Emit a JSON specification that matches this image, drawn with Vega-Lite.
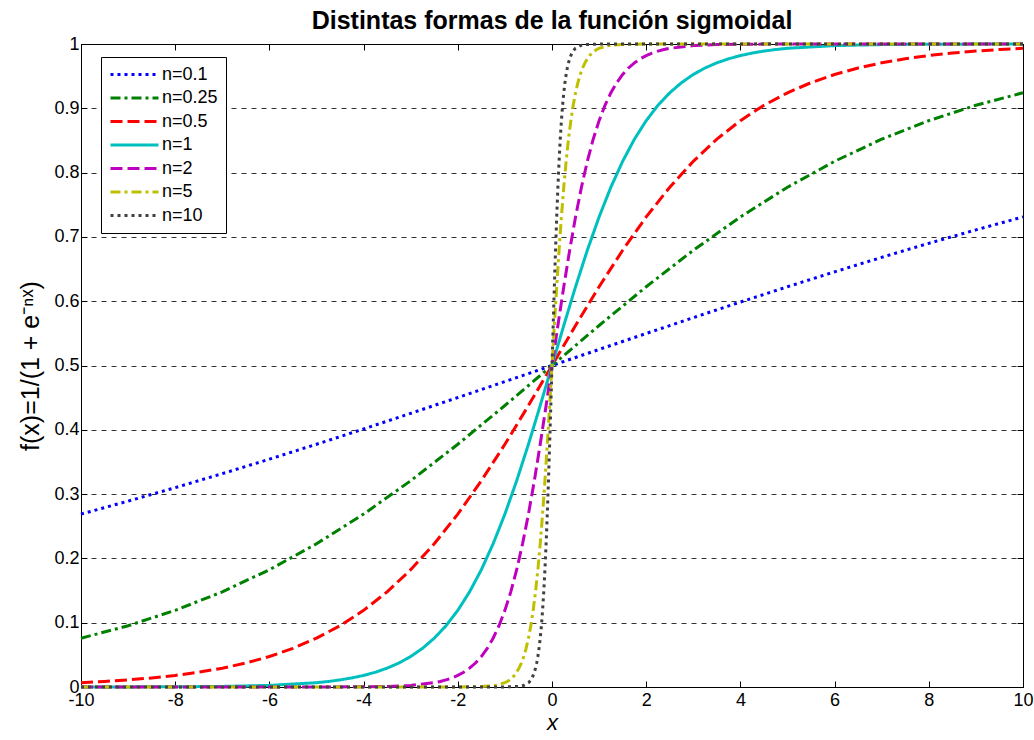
{
"$schema": "https://vega.github.io/schema/vega-lite/v6.json",
"width": 942, "height": 643,
"autosize": {"type": "none"},
"padding": {"left": 81, "top": 44, "right": 11, "bottom": 53},
"background": "white",
"title": {"text": "Distintas formas de la función sigmoidal", "fontSize": 25, "fontWeight": "bold", "font": "Liberation Sans", "color": "black", "anchor": "middle", "offset": 6, "baseline": "bottom", "dy": 30},
"config": {
  "view": {"stroke": "black", "strokeWidth": 1},
  "axis": {"domainColor": "black", "tickColor": "black", "labelColor": "black", "labelFont": "Liberation Sans", "labelFontSize": 18, "labelFlush": false, "titleFont": "Liberation Sans", "titleColor": "black", "titleFontWeight": "normal", "tickSize": -6, "labelPadding": 8, "gridColor": "#333333", "gridDash": [5, 5], "gridWidth": 1, "grid": false},
  "legend": {"orient": "none", "legendX": 20, "legendY": 13, "strokeColor": "black", "fillColor": "white", "padding": 8, "symbolType": "M-3,0H3", "symbolSize": 256, "symbolOffset": 16, "symbolStrokeWidth": 3, "labelFont": "Liberation Sans", "labelFontSize": 18, "labelColor": "black", "rowPadding": 4.5, "labelOffset": 18}
},
"data": {"values": [
{"n":"n=0.1","x":-10,"y":0.2689},{"n":"n=0.1","x":-9,"y":0.2891},{"n":"n=0.1","x":-8,"y":0.3100},{"n":"n=0.1","x":-7,"y":0.3318},{"n":"n=0.1","x":-6,"y":0.3543},{"n":"n=0.1","x":-5,"y":0.3775},{"n":"n=0.1","x":-4,"y":0.4013},{"n":"n=0.1","x":-3,"y":0.4256},{"n":"n=0.1","x":-2,"y":0.4502},{"n":"n=0.1","x":-1,"y":0.4750},{"n":"n=0.1","x":0,"y":0.5},{"n":"n=0.1","x":1,"y":0.5250},{"n":"n=0.1","x":2,"y":0.5498},{"n":"n=0.1","x":3,"y":0.5744},{"n":"n=0.1","x":4,"y":0.5987},{"n":"n=0.1","x":5,"y":0.6225},{"n":"n=0.1","x":6,"y":0.6457},{"n":"n=0.1","x":7,"y":0.6682},{"n":"n=0.1","x":8,"y":0.6900},{"n":"n=0.1","x":9,"y":0.7109},{"n":"n=0.1","x":10,"y":0.7311},
{"n":"n=0.25","x":-10,"y":0.0759},{"n":"n=0.25","x":-9,"y":0.0953},{"n":"n=0.25","x":-8,"y":0.1192},{"n":"n=0.25","x":-7,"y":0.1480},{"n":"n=0.25","x":-6,"y":0.1824},{"n":"n=0.25","x":-5,"y":0.2227},{"n":"n=0.25","x":-4,"y":0.2689},{"n":"n=0.25","x":-3,"y":0.3208},{"n":"n=0.25","x":-2,"y":0.3775},{"n":"n=0.25","x":-1,"y":0.4378},{"n":"n=0.25","x":0,"y":0.5},{"n":"n=0.25","x":1,"y":0.5622},{"n":"n=0.25","x":2,"y":0.6225},{"n":"n=0.25","x":3,"y":0.6792},{"n":"n=0.25","x":4,"y":0.7311},{"n":"n=0.25","x":5,"y":0.7773},{"n":"n=0.25","x":6,"y":0.8176},{"n":"n=0.25","x":7,"y":0.8520},{"n":"n=0.25","x":8,"y":0.8808},{"n":"n=0.25","x":9,"y":0.9047},{"n":"n=0.25","x":10,"y":0.9241},
{"n":"n=0.5","x":-10,"y":0.0067},{"n":"n=0.5","x":-9.5,"y":0.0086},{"n":"n=0.5","x":-9,"y":0.0110},{"n":"n=0.5","x":-8.5,"y":0.0141},{"n":"n=0.5","x":-8,"y":0.0180},{"n":"n=0.5","x":-7.5,"y":0.0230},{"n":"n=0.5","x":-7,"y":0.0293},{"n":"n=0.5","x":-6.5,"y":0.0373},{"n":"n=0.5","x":-6,"y":0.0474},{"n":"n=0.5","x":-5.5,"y":0.0601},{"n":"n=0.5","x":-5,"y":0.0759},{"n":"n=0.5","x":-4.5,"y":0.0953},{"n":"n=0.5","x":-4,"y":0.1192},{"n":"n=0.5","x":-3.5,"y":0.1480},{"n":"n=0.5","x":-3,"y":0.1824},{"n":"n=0.5","x":-2.5,"y":0.2227},{"n":"n=0.5","x":-2,"y":0.2689},{"n":"n=0.5","x":-1.5,"y":0.3208},{"n":"n=0.5","x":-1,"y":0.3775},{"n":"n=0.5","x":-0.5,"y":0.4378},{"n":"n=0.5","x":0,"y":0.5},{"n":"n=0.5","x":0.5,"y":0.5622},{"n":"n=0.5","x":1,"y":0.6225},{"n":"n=0.5","x":1.5,"y":0.6792},{"n":"n=0.5","x":2,"y":0.7311},{"n":"n=0.5","x":2.5,"y":0.7773},{"n":"n=0.5","x":3,"y":0.8176},{"n":"n=0.5","x":3.5,"y":0.8520},{"n":"n=0.5","x":4,"y":0.8808},{"n":"n=0.5","x":4.5,"y":0.9047},{"n":"n=0.5","x":5,"y":0.9241},{"n":"n=0.5","x":5.5,"y":0.9399},{"n":"n=0.5","x":6,"y":0.9526},{"n":"n=0.5","x":6.5,"y":0.9627},{"n":"n=0.5","x":7,"y":0.9707},{"n":"n=0.5","x":7.5,"y":0.9770},{"n":"n=0.5","x":8,"y":0.9820},{"n":"n=0.5","x":8.5,"y":0.9859},{"n":"n=0.5","x":9,"y":0.9890},{"n":"n=0.5","x":9.5,"y":0.9914},{"n":"n=0.5","x":10,"y":0.9933},
{"n":"n=1","x":-10,"y":0.00005},{"n":"n=1","x":-8,"y":0.0003},{"n":"n=1","x":-7,"y":0.0009},{"n":"n=1","x":-6,"y":0.0025},{"n":"n=1","x":-5,"y":0.0067},{"n":"n=1","x":-4.75,"y":0.0086},{"n":"n=1","x":-4.5,"y":0.0110},{"n":"n=1","x":-4.25,"y":0.0141},{"n":"n=1","x":-4,"y":0.0180},{"n":"n=1","x":-3.75,"y":0.0230},{"n":"n=1","x":-3.5,"y":0.0293},{"n":"n=1","x":-3.25,"y":0.0373},{"n":"n=1","x":-3,"y":0.0474},{"n":"n=1","x":-2.75,"y":0.0601},{"n":"n=1","x":-2.5,"y":0.0759},{"n":"n=1","x":-2.25,"y":0.0953},{"n":"n=1","x":-2,"y":0.1192},{"n":"n=1","x":-1.75,"y":0.1480},{"n":"n=1","x":-1.5,"y":0.1824},{"n":"n=1","x":-1.25,"y":0.2227},{"n":"n=1","x":-1,"y":0.2689},{"n":"n=1","x":-0.75,"y":0.3208},{"n":"n=1","x":-0.5,"y":0.3775},{"n":"n=1","x":-0.25,"y":0.4378},{"n":"n=1","x":0,"y":0.5},{"n":"n=1","x":0.25,"y":0.5622},{"n":"n=1","x":0.5,"y":0.6225},{"n":"n=1","x":0.75,"y":0.6792},{"n":"n=1","x":1,"y":0.7311},{"n":"n=1","x":1.25,"y":0.7773},{"n":"n=1","x":1.5,"y":0.8176},{"n":"n=1","x":1.75,"y":0.8520},{"n":"n=1","x":2,"y":0.8808},{"n":"n=1","x":2.25,"y":0.9047},{"n":"n=1","x":2.5,"y":0.9241},{"n":"n=1","x":2.75,"y":0.9399},{"n":"n=1","x":3,"y":0.9526},{"n":"n=1","x":3.25,"y":0.9627},{"n":"n=1","x":3.5,"y":0.9707},{"n":"n=1","x":3.75,"y":0.9770},{"n":"n=1","x":4,"y":0.9820},{"n":"n=1","x":4.25,"y":0.9859},{"n":"n=1","x":4.5,"y":0.9890},{"n":"n=1","x":4.75,"y":0.9914},{"n":"n=1","x":5,"y":0.9933},{"n":"n=1","x":6,"y":0.9975},{"n":"n=1","x":7,"y":0.9991},{"n":"n=1","x":8,"y":0.9997},{"n":"n=1","x":10,"y":0.99995},
{"n":"n=2","x":-10,"y":0},{"n":"n=2","x":-5,"y":0.00005},{"n":"n=2","x":-4,"y":0.0003},{"n":"n=2","x":-3.5,"y":0.0009},{"n":"n=2","x":-3,"y":0.0025},{"n":"n=2","x":-2.5,"y":0.0067},{"n":"n=2","x":-2.375,"y":0.0086},{"n":"n=2","x":-2.25,"y":0.0110},{"n":"n=2","x":-2.125,"y":0.0141},{"n":"n=2","x":-2,"y":0.0180},{"n":"n=2","x":-1.875,"y":0.0230},{"n":"n=2","x":-1.75,"y":0.0293},{"n":"n=2","x":-1.625,"y":0.0373},{"n":"n=2","x":-1.5,"y":0.0474},{"n":"n=2","x":-1.375,"y":0.0601},{"n":"n=2","x":-1.25,"y":0.0759},{"n":"n=2","x":-1.125,"y":0.0953},{"n":"n=2","x":-1,"y":0.1192},{"n":"n=2","x":-0.875,"y":0.1480},{"n":"n=2","x":-0.75,"y":0.1824},{"n":"n=2","x":-0.625,"y":0.2227},{"n":"n=2","x":-0.5,"y":0.2689},{"n":"n=2","x":-0.375,"y":0.3208},{"n":"n=2","x":-0.25,"y":0.3775},{"n":"n=2","x":-0.125,"y":0.4378},{"n":"n=2","x":0,"y":0.5},{"n":"n=2","x":0.125,"y":0.5622},{"n":"n=2","x":0.25,"y":0.6225},{"n":"n=2","x":0.375,"y":0.6792},{"n":"n=2","x":0.5,"y":0.7311},{"n":"n=2","x":0.625,"y":0.7773},{"n":"n=2","x":0.75,"y":0.8176},{"n":"n=2","x":0.875,"y":0.8520},{"n":"n=2","x":1,"y":0.8808},{"n":"n=2","x":1.125,"y":0.9047},{"n":"n=2","x":1.25,"y":0.9241},{"n":"n=2","x":1.375,"y":0.9399},{"n":"n=2","x":1.5,"y":0.9526},{"n":"n=2","x":1.625,"y":0.9627},{"n":"n=2","x":1.75,"y":0.9707},{"n":"n=2","x":1.875,"y":0.9770},{"n":"n=2","x":2,"y":0.9820},{"n":"n=2","x":2.125,"y":0.9859},{"n":"n=2","x":2.25,"y":0.9890},{"n":"n=2","x":2.375,"y":0.9914},{"n":"n=2","x":2.5,"y":0.9933},{"n":"n=2","x":3,"y":0.9975},{"n":"n=2","x":3.5,"y":0.9991},{"n":"n=2","x":4,"y":0.9997},{"n":"n=2","x":5,"y":0.99995},{"n":"n=2","x":10,"y":1},
{"n":"n=5","x":-10,"y":0},{"n":"n=5","x":-2,"y":0.00005},{"n":"n=5","x":-1.5,"y":0.0006},{"n":"n=5","x":-1.2,"y":0.0025},{"n":"n=5","x":-1,"y":0.0067},{"n":"n=5","x":-0.95,"y":0.0086},{"n":"n=5","x":-0.9,"y":0.0110},{"n":"n=5","x":-0.85,"y":0.0141},{"n":"n=5","x":-0.8,"y":0.0180},{"n":"n=5","x":-0.75,"y":0.0230},{"n":"n=5","x":-0.7,"y":0.0293},{"n":"n=5","x":-0.65,"y":0.0373},{"n":"n=5","x":-0.6,"y":0.0474},{"n":"n=5","x":-0.55,"y":0.0601},{"n":"n=5","x":-0.5,"y":0.0759},{"n":"n=5","x":-0.45,"y":0.0953},{"n":"n=5","x":-0.4,"y":0.1192},{"n":"n=5","x":-0.35,"y":0.1480},{"n":"n=5","x":-0.3,"y":0.1824},{"n":"n=5","x":-0.25,"y":0.2227},{"n":"n=5","x":-0.2,"y":0.2689},{"n":"n=5","x":-0.15,"y":0.3208},{"n":"n=5","x":-0.1,"y":0.3775},{"n":"n=5","x":-0.05,"y":0.4378},{"n":"n=5","x":0,"y":0.5},{"n":"n=5","x":0.05,"y":0.5622},{"n":"n=5","x":0.1,"y":0.6225},{"n":"n=5","x":0.15,"y":0.6792},{"n":"n=5","x":0.2,"y":0.7311},{"n":"n=5","x":0.25,"y":0.7773},{"n":"n=5","x":0.3,"y":0.8176},{"n":"n=5","x":0.35,"y":0.8520},{"n":"n=5","x":0.4,"y":0.8808},{"n":"n=5","x":0.45,"y":0.9047},{"n":"n=5","x":0.5,"y":0.9241},{"n":"n=5","x":0.55,"y":0.9399},{"n":"n=5","x":0.6,"y":0.9526},{"n":"n=5","x":0.65,"y":0.9627},{"n":"n=5","x":0.7,"y":0.9707},{"n":"n=5","x":0.75,"y":0.9770},{"n":"n=5","x":0.8,"y":0.9820},{"n":"n=5","x":0.85,"y":0.9859},{"n":"n=5","x":0.9,"y":0.9890},{"n":"n=5","x":0.95,"y":0.9914},{"n":"n=5","x":1,"y":0.9933},{"n":"n=5","x":1.2,"y":0.9975},{"n":"n=5","x":1.5,"y":0.9994},{"n":"n=5","x":2,"y":0.99995},{"n":"n=5","x":10,"y":1},
{"n":"n=10","x":-10,"y":0},{"n":"n=10","x":-1,"y":0.00005},{"n":"n=10","x":-0.7,"y":0.0009},{"n":"n=10","x":-0.6,"y":0.0025},{"n":"n=10","x":-0.5,"y":0.0067},{"n":"n=10","x":-0.475,"y":0.0086},{"n":"n=10","x":-0.45,"y":0.0110},{"n":"n=10","x":-0.425,"y":0.0141},{"n":"n=10","x":-0.4,"y":0.0180},{"n":"n=10","x":-0.375,"y":0.0230},{"n":"n=10","x":-0.35,"y":0.0293},{"n":"n=10","x":-0.325,"y":0.0373},{"n":"n=10","x":-0.3,"y":0.0474},{"n":"n=10","x":-0.275,"y":0.0601},{"n":"n=10","x":-0.25,"y":0.0759},{"n":"n=10","x":-0.225,"y":0.0953},{"n":"n=10","x":-0.2,"y":0.1192},{"n":"n=10","x":-0.175,"y":0.1480},{"n":"n=10","x":-0.15,"y":0.1824},{"n":"n=10","x":-0.125,"y":0.2227},{"n":"n=10","x":-0.1,"y":0.2689},{"n":"n=10","x":-0.075,"y":0.3208},{"n":"n=10","x":-0.05,"y":0.3775},{"n":"n=10","x":-0.025,"y":0.4378},{"n":"n=10","x":0,"y":0.5},{"n":"n=10","x":0.025,"y":0.5622},{"n":"n=10","x":0.05,"y":0.6225},{"n":"n=10","x":0.075,"y":0.6792},{"n":"n=10","x":0.1,"y":0.7311},{"n":"n=10","x":0.125,"y":0.7773},{"n":"n=10","x":0.15,"y":0.8176},{"n":"n=10","x":0.175,"y":0.8520},{"n":"n=10","x":0.2,"y":0.8808},{"n":"n=10","x":0.225,"y":0.9047},{"n":"n=10","x":0.25,"y":0.9241},{"n":"n=10","x":0.275,"y":0.9399},{"n":"n=10","x":0.3,"y":0.9526},{"n":"n=10","x":0.325,"y":0.9627},{"n":"n=10","x":0.35,"y":0.9707},{"n":"n=10","x":0.375,"y":0.9770},{"n":"n=10","x":0.4,"y":0.9820},{"n":"n=10","x":0.425,"y":0.9859},{"n":"n=10","x":0.45,"y":0.9890},{"n":"n=10","x":0.475,"y":0.9914},{"n":"n=10","x":0.5,"y":0.9933},{"n":"n=10","x":0.6,"y":0.9975},{"n":"n=10","x":0.7,"y":0.9991},{"n":"n=10","x":1,"y":0.99995},{"n":"n=10","x":10,"y":1}
]},
"layer": [
  {"mark": {"type": "line", "strokeWidth": 3},
   "encoding": {
     "x": {"field": "x", "type": "quantitative", "scale": {"domain": [-10, 10], "nice": false, "zero": false},
           "axis": {"orient": "bottom", "values": [-10,-8,-6,-4,-2,0,2,4,6,8,10], "labelExpr": "replace(datum.label, '−', '-')", "labelPadding": 10, "title": "x", "titleFontStyle": "italic", "titleFontSize": 22, "titlePadding": 3, "grid": false}},
     "y": {"field": "y", "type": "quantitative", "scale": {"domain": [0, 1], "nice": false, "zero": false},
           "axis": {"orient": "left", "values": [0,0.1,0.2,0.3,0.4,0.5,0.6,0.7,0.8,0.9,1], "format": ".1~f", "grid": true, "title": "f(x)=1/(1 + e⁻ⁿˣ)", "titleFontSize": 25, "titlePadding": 10}},
     "color": {"field": "n", "type": "nominal", "title": null, "sort": null,
               "scale": {"domain": ["n=0.1","n=0.25","n=0.5","n=1","n=2","n=5","n=10"], "range": ["#0000ff","#008000","#ff0000","#00bfbf","#bf00bf","#bfbf00","#404040"]}},
     "strokeDash": {"field": "n", "type": "nominal", "title": null, "sort": null,
               "scale": {"domain": ["n=0.1","n=0.25","n=0.5","n=1","n=2","n=5","n=10"], "range": [[3,4],[10,4,3,4],[12,5],[1,0],[12,5],[10,4,3,4],[3,4]]}}
   }},
  {"mark": {"type": "point", "opacity": 0},
   "encoding": {
     "x": {"field": "x", "type": "quantitative", "axis": {"orient": "top", "values": [-10,-8,-6,-4,-2,0,2,4,6,8,10], "labels": false, "title": null, "grid": false}},
     "y": {"field": "y", "type": "quantitative", "axis": {"orient": "right", "values": [0,0.1,0.2,0.3,0.4,0.5,0.6,0.7,0.8,0.9,1], "labels": false, "title": null, "grid": false}}
   }}
],
"resolve": {"axis": {"x": "independent", "y": "independent"}}
}
